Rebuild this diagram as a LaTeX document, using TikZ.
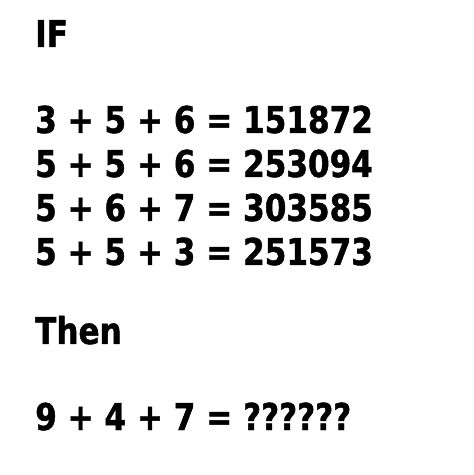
\documentclass[tikz,border=0pt]{standalone}
\usepackage{fontspec}
\newfontfamily\puzzlefont[FakeStretch=0.84,BoldFont={* Bold},BoldFeatures={FakeBold=1.2}]{DejaVu Sans}
\usepackage{tikz}

\begin{document}
\begin{tikzpicture}[x=1pt,y=1pt,
  row/.style={anchor=base west,inner sep=0pt,font=\puzzlefont\bfseries\fontsize{37}{37}\selectfont}]
\useasboundingbox (0,0) rectangle (474,475);
\node [row] (z) at (35,428) {IF};
\node [row] (a) at (35,342) {3 + 5 + 6 = 151872};
\node [row] (b) at (35,298) {5 + 5 + 6 = 253094};
\node [row] (c) at (35,254) {5 + 6 + 7 = 303585};
\node [row] (d) at (35,210) {5 + 5 + 3 = 251573};
\node [row] (e) at (35,131) {Then};
\node [row] (f) at (35,45) {9 + 4 + 7 = ??????};
\end{tikzpicture}
\end{document}
